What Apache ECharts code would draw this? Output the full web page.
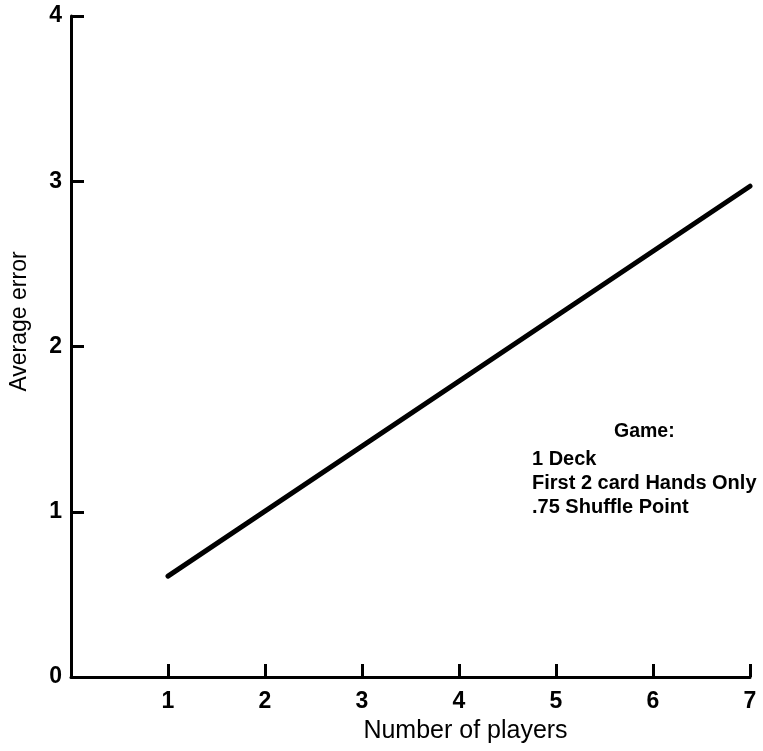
<!DOCTYPE html>
<html>
<head>
<meta charset="utf-8">
<script src="https://cdn.jsdelivr.net/npm/echarts@6/dist/echarts.min.js"></script>
<style>
  html, body { margin: 0; padding: 0; background: #fff; }
  #chart { width: 763px; height: 751px; }
</style>
</head>
<body>
<div id="chart"></div>
<script>
// Average error against number of players (fitted line endpoints)
const players = [1, 7];
const averageError = [0.61, 2.97];

// Axis labels and annotation
const xAxisName = 'Number of players';
const yAxisName = 'Average error';
const gameTitle = 'Game:';
const gameLines = ['1 Deck', 'First 2 card Hands Only', '.75 Shuffle Point'];

const FONT = '"Liberation Sans", Arial, Helvetica, sans-serif';
const INK = '#000';

const chart = echarts.init(document.getElementById('chart'), null, { renderer: 'canvas' });

const lineData = players.map((p, i) => [p, averageError[i]]);

chart.setOption({
  backgroundColor: '#fff',
  animation: false,
  grid: {
    left: 71, right: 13, top: 16, bottom: 74,
    containLabel: false,
    outerBoundsMode: 'none'
  },
  xAxis: {
    type: 'value',
    min: 0, max: 7, interval: 1,
    name: xAxisName,
    nameLocation: 'middle',
    nameGap: 42,
    nameTextStyle: { fontFamily: FONT, fontSize: 25, color: INK, padding: [0, 0, 0, 110] },
    axisLine: { show: true, onZero: false, lineStyle: { color: INK, width: 3 } },
    axisTick: { show: true, inside: true, length: 13, lineStyle: { color: INK, width: 3 } },
    axisLabel: {
      fontFamily: FONT, fontSize: 23, fontWeight: 'bold', color: INK, margin: 13,
      formatter: v => (v === 0 ? '' : String(v))
    },
    splitLine: { show: false }
  },
  yAxis: {
    type: 'value',
    min: 0, max: 4, interval: 1,
    name: yAxisName,
    nameLocation: 'middle',
    nameGap: 40,
    nameRotate: 90,
    nameTextStyle: { fontFamily: FONT, fontSize: 23, color: INK, padding: [0, 0, 0, 50] },
    axisLine: { show: true, onZero: false, lineStyle: { color: INK, width: 3 } },
    axisTick: { show: true, inside: true, length: 13, lineStyle: { color: INK, width: 3 } },
    axisLabel: {
      fontFamily: FONT, fontSize: 23, fontWeight: 'bold', color: INK, margin: 9
    },
    splitLine: { show: false }
  },
  series: [{
    type: 'line',
    data: lineData,
    showSymbol: false,
    lineStyle: { color: INK, width: 5, cap: 'round' },
    silent: true
  }],
  graphic: [
    {
      type: 'text', left: 614, top: 422,
      style: { text: gameTitle, font: 'bold 19.5px ' + FONT, fill: INK }
    },
    {
      type: 'text', left: 532, top: 447,
      style: {
        text: gameLines.join('\n'),
        font: 'bold 20px ' + FONT, fill: INK, lineHeight: 24
      }
    }
  ]
});
</script>
</body>
</html>
